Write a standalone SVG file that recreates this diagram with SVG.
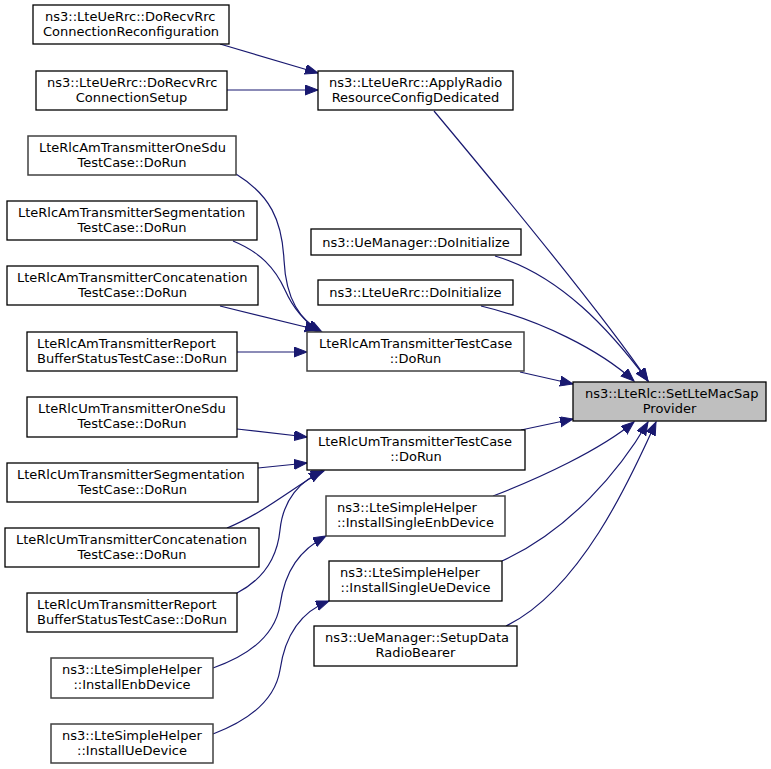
<svg xmlns="http://www.w3.org/2000/svg" width="771" height="769" viewBox="0 0 771 769">
<style>
.n rect{fill:#ffffff;stroke:#000000;stroke-width:1.3}
.g rect{stroke:#404040;stroke-width:1.5}
.h rect{fill:#bfbfbf}
text{font-family:"DejaVu Sans",sans-serif;font-size:13px;fill:#000000}
.s{text-anchor:start}
.m{text-anchor:middle}
.e path{fill:none;stroke:#191970;stroke-width:1.2;marker-end:url(#a)}
</style>
<defs>
<marker id="a" markerUnits="userSpaceOnUse" markerWidth="14" markerHeight="11" refX="13" refY="5" orient="auto">
<path d="M0,0 L13,5 L0,10 z" fill="#191970" stroke="#191970" stroke-width="1"/>
</marker>
</defs>
<rect width="771" height="769" fill="#ffffff"/>
<g class="e" id="edges">
<path d="M220,44 L318,73"/>
<path d="M227,90 L318,90"/>
<path d="M434,111 C485,172 600,310 648,381"/>
<path d="M481,306 C540,320 600,350 634,381"/>
<path d="M495,256 C560,275 610,330 648,381"/>
<path d="M520,372 L573,384"/>
<path d="M521,430 L573,419"/>
<path d="M493,496 C540,478 600,450 634,422"/>
<path d="M502,561 C570,530 620,470 648,422"/>
<path d="M506,626 C580,590 630,480 656,422"/>
<path d="M236,174 C270,195 282,220 284,260 C286,300 300,320 322,332"/>
<path d="M233,241 C260,252 275,268 285,290 C293,308 305,322 320,332"/>
<path d="M220,306 L318,330"/>
<path d="M237,352 L307,352"/>
<path d="M237,429 L307,437"/>
<path d="M258,468 L307,463"/>
<path d="M227,528 C260,515 290,490 322,471"/>
<path d="M237,593 C262,580 277,560 280,530 C283,500 300,480 324,471"/>
<path d="M213,668 C250,655 275,635 280,605 C285,570 300,550 326,536"/>
<path d="M213,734 C250,720 275,700 280,670 C285,635 300,612 329,601"/>
</g>
<g class="n" id="n1"><rect x="33" y="5" width="196" height="39"/><text class="s" x="45" y="21">ns3::LteUeRrc::DoRecvRrc</text><text class="m" x="131" y="36">ConnectionReconfiguration</text></g>
<g class="n" id="n2"><rect x="36" y="71" width="191" height="39"/><text class="s" x="47" y="87">ns3::LteUeRrc::DoRecvRrc</text><text class="m" x="131.5" y="102">ConnectionSetup</text></g>
<g class="n" id="n3"><rect x="318" y="71" width="195" height="39"/><text class="s" x="329" y="87">ns3::LteUeRrc::ApplyRadio</text><text class="m" x="415.5" y="102">ResourceConfigDedicated</text></g>
<g class="n g" id="n4"><rect x="28" y="136" width="208" height="39"/><text class="s" x="39" y="152">LteRlcAmTransmitterOneSdu</text><text class="m" x="132" y="167">TestCase::DoRun</text></g>
<g class="n" id="n5"><rect x="7" y="201" width="250" height="39"/><text class="s" x="18" y="217">LteRlcAmTransmitterSegmentation</text><text class="m" x="132" y="232">TestCase::DoRun</text></g>
<g class="n" id="n6"><rect x="7" y="266" width="251" height="39"/><text class="s" x="17" y="282">LteRlcAmTransmitterConcatenation</text><text class="m" x="132.5" y="297">TestCase::DoRun</text></g>
<g class="n" id="n7"><rect x="27" y="332" width="210" height="39"/><text class="s" x="37" y="348">LteRlcAmTransmitterReport</text><text class="m" x="132" y="363">BufferStatusTestCase::DoRun</text></g>
<g class="n" id="n8"><rect x="27" y="397" width="210" height="40"/><text class="s" x="38" y="413">LteRlcUmTransmitterOneSdu</text><text class="m" x="132" y="428">TestCase::DoRun</text></g>
<g class="n" id="n9"><rect x="7" y="463" width="251" height="39"/><text class="s" x="17" y="479">LteRlcUmTransmitterSegmentation</text><text class="m" x="132.5" y="494">TestCase::DoRun</text></g>
<g class="n" id="n10"><rect x="5" y="528" width="254" height="39"/><text class="s" x="16" y="544">LteRlcUmTransmitterConcatenation</text><text class="m" x="132" y="559">TestCase::DoRun</text></g>
<g class="n" id="n11"><rect x="27" y="593" width="210" height="39"/><text class="s" x="37" y="609">LteRlcUmTransmitterReport</text><text class="m" x="132" y="624">BufferStatusTestCase::DoRun</text></g>
<g class="n g" id="n12"><rect x="51" y="658" width="162" height="40"/><text class="s" x="62" y="674">ns3::LteSimpleHelper</text><text class="m" x="132" y="689">::InstallEnbDevice</text></g>
<g class="n g" id="n13"><rect x="51" y="724" width="162" height="39"/><text class="s" x="62" y="740">ns3::LteSimpleHelper</text><text class="m" x="132" y="755">::InstallUeDevice</text></g>
<g class="n" id="n14"><rect x="311" y="229" width="210" height="26"/><text class="m" x="416" y="247">ns3::UeManager::DoInitialize</text></g>
<g class="n" id="n15"><rect x="318" y="280" width="195" height="25"/><text class="m" x="415.5" y="297">ns3::LteUeRrc::DoInitialize</text></g>
<g class="n g" id="n16"><rect x="307" y="332" width="217" height="39"/><text class="s" x="319" y="348">LteRlcAmTransmitterTestCase</text><text class="m" x="415.5" y="363">::DoRun</text></g>
<g class="n" id="n17"><rect x="307" y="430" width="218" height="40"/><text class="s" x="318" y="446">LteRlcUmTransmitterTestCase</text><text class="m" x="416" y="461">::DoRun</text></g>
<g class="n g" id="n18"><rect x="326" y="496" width="179" height="40"/><text class="s" x="337" y="512">ns3::LteSimpleHelper</text><text class="m" x="415.5" y="527">::InstallSingleEnbDevice</text></g>
<g class="n" id="n19"><rect x="329" y="561" width="173" height="40"/><text class="s" x="340" y="577">ns3::LteSimpleHelper</text><text class="m" x="415.5" y="592">::InstallSingleUeDevice</text></g>
<g class="n" id="n20"><rect x="314" y="626" width="203" height="40"/><text class="s" x="325" y="642">ns3::UeManager::SetupData</text><text class="m" x="415.5" y="657">RadioBearer</text></g>
<g class="n h" id="n21"><rect x="573" y="382" width="193" height="39"/><text class="s" x="585" y="398">ns3::LteRlc::SetLteMacSap</text><text class="m" x="669.5" y="413">Provider</text></g>
</svg>
